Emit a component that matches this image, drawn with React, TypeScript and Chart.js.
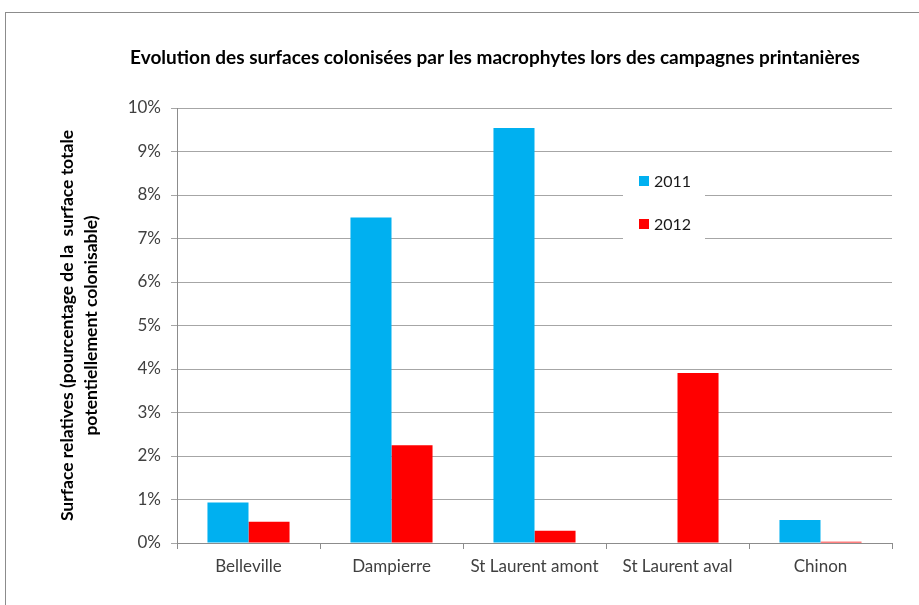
import React, { useEffect, useRef } from "react";
import { Chart, registerables } from "chart.js";

Chart.register(...registerables);

const categories = ["Belleville", "Dampierre", "St Laurent amont", "St Laurent aval", "Chinon"];
const values2011 = [0.0093, 0.0748, 0.0954, 0, 0.0053];
const values2012 = [0.0049, 0.0225, 0.0028, 0.0391, 0.0003];
const seriesNames = ["2011", "2012"];
const seriesColors = ["#00B0F0", "#FF0000"];
const chartTitle = "Evolution des surfaces colonisées par les macrophytes lors des campagnes printanières";
const yTitleLines = ["Surface relatives (pourcentage de la  surface totale", "potentiellement colonisable)"];

const FONT = "Lato, 'Open Sans', sans-serif";

const decorPlugin = {
  id: "decor",
  beforeDraw(chart: any) {
    const ctx = chart.ctx;
    ctx.save();
    ctx.fillStyle = "#ffffff";
    ctx.fillRect(0, 0, chart.width, chart.height);
    ctx.strokeStyle = "#8c8c8c";
    ctx.lineWidth = 1;
    ctx.strokeRect(5.5, 12.5, chart.width + 20, chart.height + 20);
    ctx.restore();
  },
  afterDraw(chart: any) {
    const ctx = chart.ctx;
    const area = chart.chartArea;
    ctx.save();
    // title
    ctx.fillStyle = "#000000";
    ctx.font = `bold 19px ${FONT}`;
    ctx.textAlign = "center";
    ctx.textBaseline = "middle";
    ctx.fillText(chartTitle, 495, 58);
    // y title
    ctx.save();
    ctx.translate(0, (area.top + area.bottom) / 2);
    ctx.rotate(-Math.PI / 2);
    ctx.font = `bold 17.5px ${FONT}`;
    ctx.fillText(yTitleLines[0], 0, 67);
    ctx.fillText(yTitleLines[1], 0, 91);
    ctx.restore();
    // legend
    ctx.fillStyle = "#ffffff";
    ctx.fillRect(623, 160, 82, 82);
    const ys = [181, 224];
    ctx.font = `16px ${FONT}`;
    ctx.textAlign = "left";
    seriesNames.forEach((name, i) => {
      ctx.fillStyle = seriesColors[i];
      ctx.fillRect(639, ys[i] - 5, 10, 10);
      ctx.fillStyle = "#1a1a1a";
      ctx.fillText(name, 654, ys[i] + 1);
    });
    ctx.restore();
  },
};

export default function App() {
  const ref = useRef<HTMLCanvasElement>(null);
  useEffect(() => {
    document.body.style.margin = "0";
    const chart = new Chart(ref.current!, {
      type: "bar",
      data: {
        labels: categories,
        datasets: [
          { label: seriesNames[0], data: values2011, backgroundColor: seriesColors[0] },
          { label: seriesNames[1], data: values2012, backgroundColor: seriesColors[1] },
        ],
      },
      plugins: [decorPlugin],
      options: {
        responsive: false,
        animation: false,
        devicePixelRatio: 1,
        datasets: { bar: { categoryPercentage: 0.574, barPercentage: 1 } },
        layout: { padding: { left: 0, right: 27, top: 108, bottom: 0 } },
        plugins: { legend: { display: false }, title: { display: false }, tooltip: { enabled: false } },
        scales: {
          x: {
            afterFit: (s: any) => { s.height = 62; },
            grid: { drawOnChartArea: false, drawTicks: true, tickLength: 6, offset: true, color: "#8c8c8c" },
            border: { display: true, color: "#8c8c8c" },
            ticks: { color: "#404040", font: { family: FONT, size: 17 }, padding: 7, maxRotation: 0 },
          },
          y: {
            min: 0,
            max: 0.1,
            afterFit: (s: any) => { s.width = 177; },
            grid: { color: "#a6a6a6", drawTicks: true, tickLength: 6 },
            border: { display: true, color: "#8c8c8c" },
            ticks: {
              stepSize: 0.01,
              color: "#404040",
              font: { family: FONT, size: 17 },
              padding: 10,
              callback: (v: any) => Math.round(Number(v) * 100) + "%",
            },
          },
        },
      },
    });
    return () => chart.destroy();
  }, []);
  return (
    <div style={{ position: "absolute", left: 0, top: 0, width: 919, height: 605 }}>
      <canvas ref={ref} width={919} height={605} style={{ width: 919, height: 605 }} />
    </div>
  );
}
